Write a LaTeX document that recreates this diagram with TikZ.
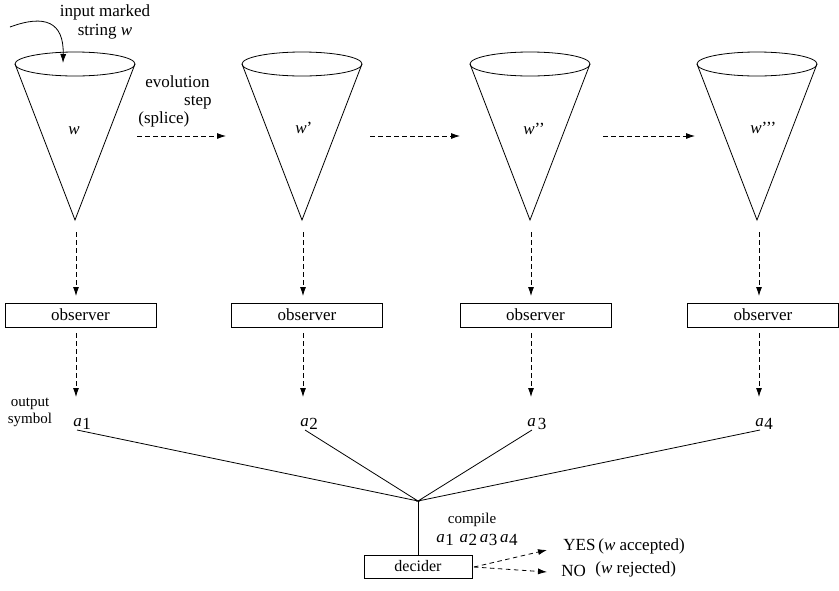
\documentclass[tikz,border=0pt]{standalone}
\usepackage{fontspec}
\setmainfont{Liberation Serif}
\usetikzlibrary{arrows.meta}
\newcommand\asub[1]{\textit{a}\kern0.5pt\raisebox{-0.45ex}{#1}}
\begin{document}
\begin{tikzpicture}[x=1pt,y=-1pt,
  line width=0.8pt,
  txt/.style={inner sep=0pt,font=\fontsize{17}{19}\selectfont},
  small/.style={inner sep=0pt,font=\fontsize{15}{17}\selectfont},
  obox/.style={draw,minimum width=151pt,minimum height=24pt,inner sep=0pt,font=\fontsize{17}{19}\selectfont},
  dbox/.style={draw,minimum width=108pt,minimum height=23pt,inner sep=0pt,font=\fontsize{16}{18}\selectfont},
  darr/.style={dashed,dash pattern=on 4.5pt off 3.5pt,-{Latex[length=9pt,width=6pt]}},
  sarr/.style={-{Latex[length=9pt,width=6pt]}}]
\useasboundingbox (0,0) rectangle (839,590);
% cones
\foreach \cx/\n in {75/1,302/2,530/3,757/4}{
  \draw (\cx,64) ellipse [x radius=60pt,y radius=12pt];
  \coordinate (apex\n) at (\cx,220);
  \draw (\cx-60,64) -- (apex\n) -- (\cx+60,64);
}
\node[txt,anchor=mid west] (w1) at (68,132) {\textit{w}};
\node[txt,anchor=mid west] (w2) at (295,131) {\textit{w}’};
\node[txt,anchor=mid west] (w3) at (523,132) {\textit{w}’’};
\node[txt,anchor=mid west] (w4) at (750,131) {\textit{w}’’’};
% input
\node[txt,align=center] (inp) at (105,22) {input marked\\string \textit{w}};
\coordinate (inS) at (10,27);
\coordinate (inE) at (63,63);
\draw[sarr] (inS) .. controls (45,14) and (64,22) .. (inE);
% evolution label
\node[txt,anchor=mid east] (evo) at (210,85) {evolution};
\node[txt,anchor=mid east] (stp) at (212,103) {step};
\node[txt,anchor=mid west] (spl) at (138,121) {(splice)};
% horizontal arrows
\coordinate (h1s) at (137,136); \coordinate (h1e) at (226,136);
\coordinate (h2s) at (370,136); \coordinate (h2e) at (460,136);
\coordinate (h3s) at (603,136); \coordinate (h3e) at (695,136);
\draw[darr] (h1s) -- (h1e);
\draw[darr] (h2s) -- (h2e);
\draw[darr] (h3s) -- (h3e);
% observers
\node[obox] (ob1) at (80.5,315) {observer};
\node[obox] (ob2) at (307,315) {observer};
\node[obox] (ob3) at (535.5,315) {observer};
\node[obox] (ob4) at (763,315) {observer};
% output symbols
\node[txt,anchor=base west] (a1) at (73,426) {\asub{1}};
\node[txt,anchor=base west] (a2) at (300,426) {\asub{2}};
\node[txt,anchor=base west] (a3) at (527,426) {\textit{a}\kern2pt\raisebox{-0.45ex}{3}};
\node[txt,anchor=base west] (a4) at (755,426) {\asub{4}};
\foreach \x/\n in {76/1,303/2,531/3,759/4}{
  \coordinate (t\n) at (\x,232);
  \coordinate (u\n) at (\x,296);
  \coordinate (v\n) at (\x,333);
  \coordinate (z\n) at (\x,397);
  \draw[darr] (t\n) -- (u\n);
  \draw[darr] (v\n) -- (z\n);
}
\node[small,align=center] (outl) at (30,412) {output\\symbol};
% join lines
\coordinate (j) at (418,501);
\coordinate (l1) at (77,430);
\coordinate (l2) at (305,430);
\coordinate (l3) at (532,430);
\coordinate (l4) at (760,430);
\draw (l1) -- (j) -- (l2);
\draw (l3) -- (j) -- (l4);
\node[dbox] (dec) at (418,566.5) {decider};
\draw (j) -- (dec.north);
\node[small] (comp) at (472,520) {compile};
\node[txt,anchor=base west] (seq) at (436,542) {\asub{1}\,\,\asub{2}\,\asub{3}\,\asub{4}};
% results
\node[txt,anchor=mid west] (yes) at (563,548) {YES\,(\textit{w} accepted)};
\node[txt,anchor=mid west] (no) at (561,574) {NO\;\;\raisebox{3pt}{(\textit{w} rejected)}};
\coordinate (ds) at (474,567);
\draw[darr] (ds) -- (547,550);
\draw[darr] (ds) -- (547,572);
\end{tikzpicture}
\end{document}
